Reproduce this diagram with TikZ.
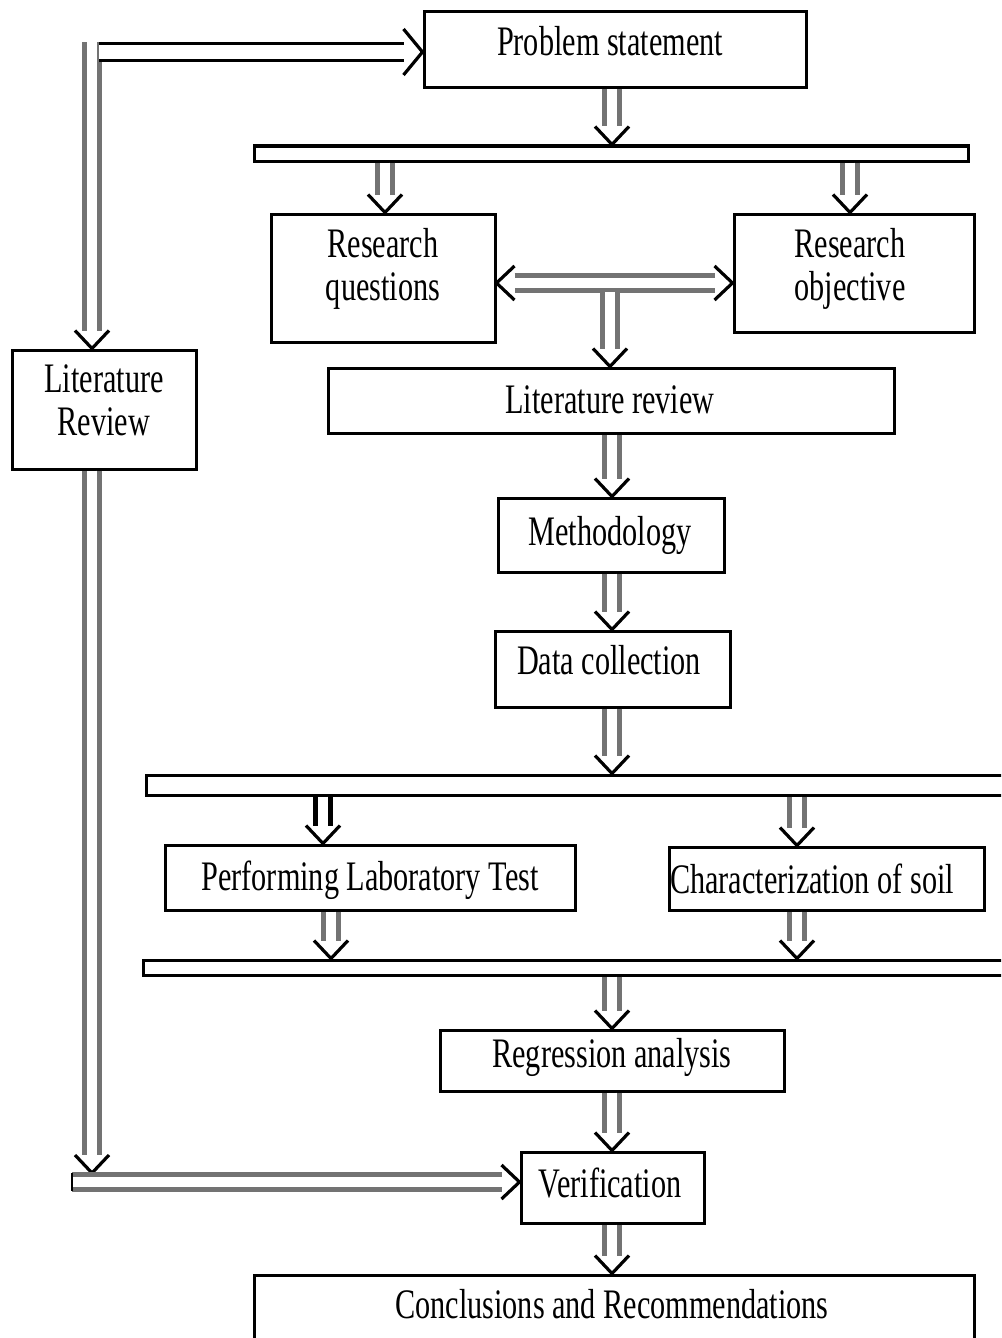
\documentclass[tikz,border=0pt]{standalone}
\usepackage{fontspec}
\setmainfont[FakeStretch=0.72]{Liberation Serif}
\usetikzlibrary{calc,fit,decorations.markings}
\newcommand\dar[3][]{%
  \draw[dline,#1] (#2) -- ($(#3)!9pt!(#2)$);
  \path[chev] (#2) -- (#3);}
\begin{document}
\begin{tikzpicture}[x=0.5pt,y=-0.5pt,
  box/.style={draw=black,line width=1.5pt,inner sep=0pt},
  txt/.style={font=\fontsize{21}{21.5}\selectfont, align=center, anchor=base, inner sep=0pt},
  dline/.style={draw=black!55, double=white, line width=2.3pt, double distance=5pt},
  chev/.style={decoration={markings, mark=at position 1 with {\draw[black,line width=1.6pt,line join=miter] (-9pt,8.5pt) -- (0,0) -- (-9pt,-8.5pt);}}, decorate},
  bigchev/.style={decoration={markings, mark=at position 1 with {\draw[black,line width=1.6pt,line join=miter] (-9.5pt,11.5pt) -- (0,0) -- (-9.5pt,-11.5pt);}}, decorate},
]
\clip (0,0) rectangle (1001,1338);
\fill[white] (0,0) rectangle (1001,1338);

% boxes
\node[box, fit={(424,12) (806,88)}] (ps) {};
\node[box, fit={(254,146) (968,161)}] (bar1) {};
\node[box, fit={(271,214) (495,342)}] (rq) {};
\node[box, fit={(734,214) (974,332)}] (ro) {};
\node[box, fit={(328,368) (894,433)}] (lrc) {};
\node[box, fit={(12,350) (196,469)}] (lrl) {};
\node[box, fit={(498,498) (724,572)}] (meth) {};
\node[box, fit={(495,631) (730,707)}] (dc) {};
\node[box, fit={(146,775) (1015,795)}] (bar2) {};
\node[box, fit={(165,845) (575,910)}] (perf) {};
\node[box, fit={(669,847) (984,910)}] (char) {};
\node[box, fit={(143,960) (1015,975)}] (bar3) {};
\node[box, fit={(440,1030) (784,1091)}] (reg) {};
\node[box, fit={(521,1152) (704,1223)}] (ver) {};
\node[box, fit={(254,1275) (974,1360)}] (conc) {};

% texts
\node[txt] (tps) at (610,56) {Problem statement};
\node[txt] (trq) at (383,300) {Research\\questions};
\node[txt] (tro) at (850,300) {Research\\objective};
\node[txt] (tlrl) at (104,435) {Literature\\Review};
\node[txt] (tlrc) at (610,413) {Literature review};
\node[txt] (tmeth) at (610,545) {Methodology};
\node[txt] (tdc) at (609,674) {Data collection};
\node[txt] (tperf) at (370,890) {Performing Laboratory Test};
\node[txt] (tchar) at (812,893) {Characterization of soil};
\node[txt] (treg) at (612,1067) {Regression analysis};
\node[txt] (tver) at (610,1197) {Verification};
\node[txt] (tconc) at (612,1318) {Conclusions and Recommendations};

% helper coordinates
\coordinate (c612) at (612,0);
\coordinate (c610) at (610,0);
\coordinate (c385) at (385,0);
\coordinate (c850) at (850,0);
\coordinate (c323) at (323,0);
\coordinate (c331) at (331,0);
\coordinate (c797) at (797,0);
\coordinate (c92) at (92,0);
\coordinate (r52) at (0,52);
\coordinate (r283) at (0,283);
\coordinate (r1182) at (0,1182);

% main column arrows
\dar{ps.south -| c612}{bar1.north -| c612}
\dar{bar1.south -| c385}{rq.north -| c385}
\dar{bar1.south -| c850}{ro.north -| c850}
\coordinate (ha) at (rq.east |- r283);
\coordinate (hz) at (ro.west |- r283);
\draw[dline] ($(ha)!9pt!(hz)$) -- ($(hz)!9pt!(ha)$);
\path[chev] (ha) -- (hz);
\path[chev] (hz) -- (ha);
\coordinate (hv) at (610,292);
\dar{hv}{lrc.north -| c610}
\dar{lrc.south -| c612}{meth.north -| c612}
\dar{meth.south -| c612}{dc.north -| c612}
\dar{dc.south -| c612}{bar2.north -| c612}
\dar[draw=black]{bar2.south -| c323}{perf.north -| c323}
\dar{bar2.south -| c797}{char.north -| c797}
\dar{perf.south -| c331}{bar3.north -| c331}
\dar{char.south -| c797}{bar3.north -| c797}
\dar{bar3.south -| c612}{reg.north -| c612}
\dar{reg.south -| c612}{ver.north -| c612}
\dar{ver.south -| c612}{conc.north -| c612}

% left connectors
\coordinate (lt) at (92,42);
\dar{lt}{lrl.north -| c92}
\coordinate (hs) at (99,52);
\coordinate (he) at (ps.west |- r52);
\draw[dline, draw=black, line width=1.5pt, double distance=7pt] (hs) -- ($(he)!9.5pt!(hs)$);
\path[bigchev] (hs) -- (he);
\coordinate (lb) at (92,1173);
\dar{lrl.south -| c92}{lb}
\coordinate (hb) at (72,1182);
\coordinate (hbe) at (ver.west |- r1182);
\dar{hb}{hbe}
\draw[black, line width=1pt] ([yshift=4.5pt]hb) -- ([yshift=-4.5pt]hb);
\end{tikzpicture}
\end{document}
